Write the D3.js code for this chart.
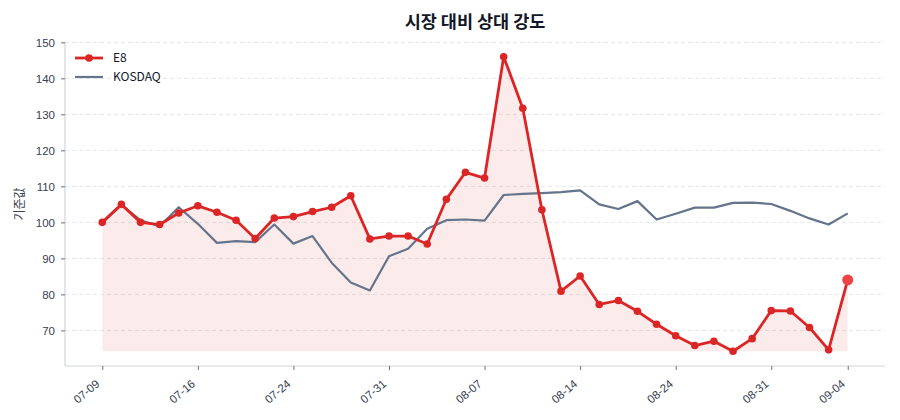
<!DOCTYPE html>
<html>
<head>
<meta charset="utf-8">
<script src="https://cdn.jsdelivr.net/npm/d3@7"></script>
<style>
  body { margin: 0; background: #fff; }
  svg { font-family: "Noto Sans CJK KR", "Noto Sans", sans-serif; }
</style>
</head>
<body>
<svg id="chart" width="900" height="420"></svg>
<script>
// trading days
const dates = [
  '07-09','07-10','07-11','07-14','07-15','07-16','07-17','07-18','07-21','07-22',
  '07-24','07-25','07-28','07-29','07-30','07-31','08-01','08-04','08-05','08-06',
  '08-07','08-08','08-11','08-12','08-13','08-14','08-18','08-19','08-20','08-21',
  '08-24','08-25','08-26','08-27','08-28','08-31','09-01','09-02','09-03','09-04'
];
const e8 = [
  100, 105.0, 100.0, 99.4, 102.6, 104.6, 102.8, 100.6, 95.5, 101.2,
  101.6, 103.0, 104.2, 107.4, 95.4, 96.2, 96.2, 94.0, 106.4, 113.9,
  112.3, 146.0, 131.7, 103.5, 80.9, 85.1, 77.2, 78.3, 75.3, 71.7,
  68.5, 65.8, 67.0, 64.2, 67.7, 75.5, 75.4, 70.8, 64.6, 84.0
];
const kosdaq = [
  100, 104.8, 100.6, 98.9, 104.2, 99.6, 94.3, 94.8, 94.5, 99.4,
  94.1, 96.2, 88.8, 83.3, 81.1, 90.6, 92.7, 98.2, 100.6, 100.8,
  100.5, 107.6, 107.9, 108.1, 108.4, 108.9, 105.0, 103.7, 105.9, 100.8,
  102.4, 104.1, 104.1, 105.4, 105.5, 105.1, 103.2, 101.1, 99.4, 102.5
];
const yTicks = [70, 80, 90, 100, 110, 120, 130, 140, 150];
const tickIdx = [0, 5, 10, 15, 20, 25, 30, 35, 39];

const svg = d3.select('#chart');
const mLeft = 65, mRight = 885, mTop = 42, mBottom = 366;
const n = dates.length;

const x = d3.scaleLinear()
  .domain([-(n - 1) * 0.05, (n - 1) * 1.05])
  .range([mLeft, mRight]);

const allVals = e8.concat(kosdaq);
const lo = d3.min(allVals), hi = d3.max(allVals);
const pad = (hi - lo) * 0.05;
const y = d3.scaleLinear()
  .domain([lo - pad, hi + pad])
  .range([mBottom, mTop]);

// grid
svg.append('g')
  .selectAll('line')
  .data(yTicks)
  .enter()
  .append('line')
  .attr('x1', mLeft).attr('x2', mRight)
  .attr('y1', d => y(d)).attr('y2', d => y(d))
  .attr('stroke', '#e5e7eb')
  .attr('stroke-dasharray', '4,3');

// area under E8 down to its min
const e8min = d3.min(e8);
const area = d3.area()
  .x((d, i) => x(i))
  .y0(y(e8min))
  .y1(d => y(d));
svg.append('path')
  .datum(e8)
  .attr('d', area)
  .attr('fill', '#dc2626')
  .attr('fill-opacity', 0.09);

// axes
const yAxis = svg.append('g')
  .attr('transform', `translate(${mLeft},0)`)
  .call(d3.axisLeft(y).tickValues(yTicks).tickSize(4).tickPadding(6));
const xAxis = svg.append('g')
  .attr('transform', `translate(0,${mBottom})`)
  .call(d3.axisBottom(x).tickValues(tickIdx).tickFormat(i => dates[i]).tickSize(4).tickPadding(4));

[yAxis, xAxis].forEach(g => {
  g.select('.domain').attr('stroke', '#d1d5db').attr('stroke-width', 1.2);
  g.selectAll('.tick line').attr('stroke', '#6b7280');
  g.selectAll('.tick text').attr('fill', '#374151').style('font-size', '11.5px');
});
yAxis.select('.domain').attr('d', `M0,${mTop}V${mBottom}`);
xAxis.select('.domain').attr('d', `M${mLeft},0H${mRight}`);
xAxis.selectAll('.tick text')
  .attr('x', 0)
  .attr('y', 0)
  .attr('dy', '0.35em')
  .attr('text-anchor', 'end')
  .attr('transform', 'translate(-5,16) rotate(-40)');

// lines
const line = d3.line()
  .x((d, i) => x(i))
  .y(d => y(d));

svg.append('path')
  .datum(kosdaq)
  .attr('d', line)
  .attr('fill', 'none')
  .attr('stroke', '#64748b')
  .attr('stroke-width', 2.2)
  .attr('stroke-linejoin', 'round');

svg.append('path')
  .datum(e8)
  .attr('d', line)
  .attr('fill', 'none')
  .attr('stroke', '#dc2626')
  .attr('stroke-width', 2.8)
  .attr('stroke-linejoin', 'round');

svg.append('g')
  .selectAll('circle')
  .data(e8.slice(0, n - 1))
  .enter()
  .append('circle')
  .attr('cx', (d, i) => x(i))
  .attr('cy', d => y(d))
  .attr('r', 3.8)
  .attr('fill', '#dc2626');

// last point highlight
svg.append('circle')
  .attr('cx', x(n - 1))
  .attr('cy', y(e8[n - 1]))
  .attr('r', 5.5)
  .attr('fill', '#ef4444');

// title
svg.append('text')
  .attr('x', (mLeft + mRight) / 2)
  .attr('y', 28)
  .attr('text-anchor', 'middle')
  .attr('fill', '#111827')
  .style('font-size', '17.5px')
  .style('font-weight', 'bold')
  .text('시장 대비 상대 강도');

// y label
svg.append('text')
  .attr('transform', `translate(24,${(mTop + mBottom) / 2}) rotate(-90)`)
  .attr('text-anchor', 'middle')
  .attr('fill', '#374151')
  .style('font-size', '12px')
  .text('기준값');

// legend
const legend = svg.append('g').attr('transform', 'translate(75,58)');
legend.append('line').attr('x1', 0).attr('x2', 28).attr('stroke', '#dc2626').attr('stroke-width', 2.8);
legend.append('circle').attr('cx', 14).attr('r', 3.8).attr('fill', '#dc2626');
legend.append('text').attr('x', 38).attr('dy', '0.35em').attr('fill', '#111827').style('font-size', '12px').text('E8');
legend.append('line').attr('x1', 0).attr('x2', 28).attr('y1', 19).attr('y2', 19).attr('stroke', '#64748b').attr('stroke-width', 2.2);
legend.append('text').attr('x', 38).attr('y', 19).attr('dy', '0.35em').attr('fill', '#111827').style('font-size', '12px').text('KOSDAQ');
</script>
</body>
</html>
